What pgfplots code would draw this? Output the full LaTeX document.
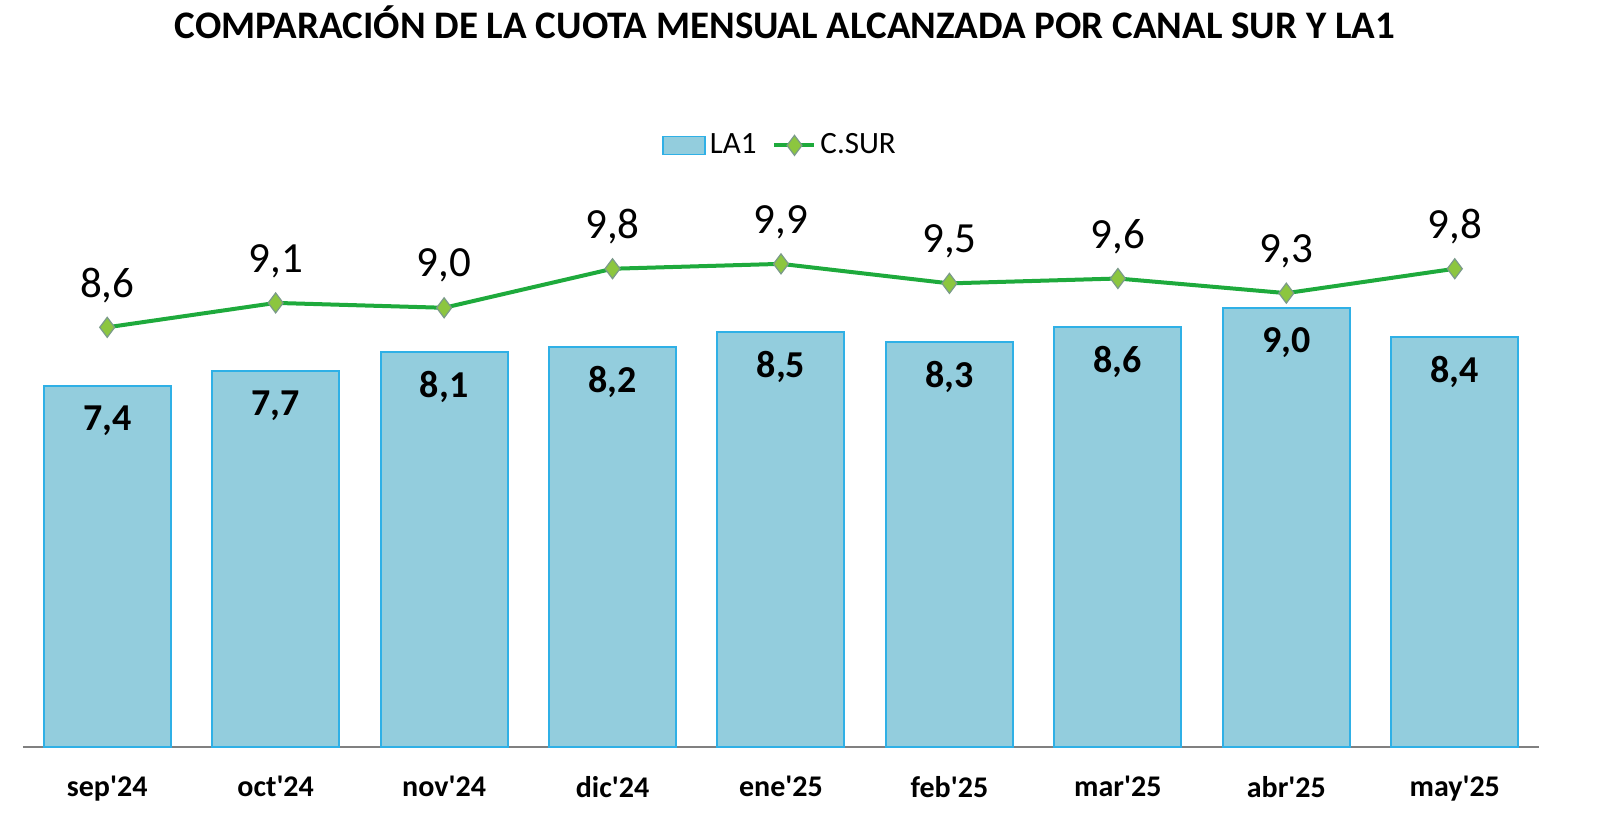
\documentclass[border=0pt]{standalone}
\usepackage{pgfplots}
\pgfplotsset{compat=1.18}
\usepackage{fontspec}
\setmainfont{Carlito}
\definecolor{barfill}{HTML}{93CDDD}
\definecolor{barline}{HTML}{2FB0E6}
\definecolor{csur}{HTML}{1EAA3C}
\definecolor{mkfill}{HTML}{8CC63F}
\definecolor{mkline}{HTML}{7A9A8A}
\newcommand{\q}{\textquotesingle}

\begin{document}
\begin{tikzpicture}
\useasboundingbox (0,0) rectangle (800pt,416.5pt);
\node[font=\fontsize{19.5}{23}\selectfont\bfseries] at (392.5pt,405.5pt)
  {COMPARACIÓN DE LA CUOTA MENSUAL ALCANZADA POR CANAL SUR Y LA1};
\begin{axis}[
    at={(11.5pt,43pt)}, anchor=south west,
    scale only axis, width=758pt, height=292.8pt,
    xmin=-0.5, xmax=8.5, ymin=0, ymax=12,
    hide y axis,
    axis x line*=bottom,
    x axis line style={draw=gray, line width=1pt},
    xtick={0,...,8},
    xticklabels={sep\q24,oct\q24,nov\q24,dic\q24,ene\q25,feb\q25,mar\q25,abr\q25,may\q25},
    xtick style={draw=none},
    xticklabel style={font=\fontsize{15}{18}\selectfont\bfseries, yshift=-11pt},
    /pgf/number format/.cd, use comma, fixed, fixed zerofill, precision=1,
      assume math mode=true, /pgfplots/.cd,
    clip=false,
    legend columns=2,
    legend style={at={(0.5,1)}, anchor=center, yshift=8pt, draw=none,
      font=\fontsize{15.5}{18}\selectfont,
      /tikz/every even column/.append style={column sep=6pt}},
  ]
  \addplot[ybar, bar width=63.5pt, fill=barfill, draw=barline, line width=1pt,
    legend image code/.code={\draw[fill=barfill, draw=barline, line width=0.8pt] (0pt,-4.5pt) rectangle (21pt,4.5pt);},
    nodes near coords,
    nodes near coords style={font=\fontsize{19}{23}\selectfont\bfseries,
      anchor=center, yshift=-17.5pt, text=black}]
    coordinates {(0,7.4) (1,7.7) (2,8.1) (3,8.2) (4,8.5) (5,8.3) (6,8.6) (7,9.0) (8,8.4)};
  \addlegendentry{LA1}
  \addplot[csur, line width=2pt, mark=diamond*, mark size=5pt,
    mark options={fill=mkfill, draw=mkline, line width=0.6pt},
    legend image code/.code={\draw[csur, line width=2pt] (0pt,0pt) -- (20pt,0pt);
      \draw plot[mark=diamond*, mark size=5pt, mark options={fill=mkfill, draw=mkline, line width=0.6pt}] coordinates {(10pt,0pt)};},
    nodes near coords,
    nodes near coords style={font=\fontsize{21.5}{26}\selectfont,
      anchor=center, yshift=21pt, text=black}]
    coordinates {(0,8.6) (1,9.1) (2,9.0) (3,9.8) (4,9.9) (5,9.5) (6,9.6) (7,9.3) (8,9.8)};
  \addlegendentry{C.SUR}
\end{axis}
\end{tikzpicture}
\end{document}
